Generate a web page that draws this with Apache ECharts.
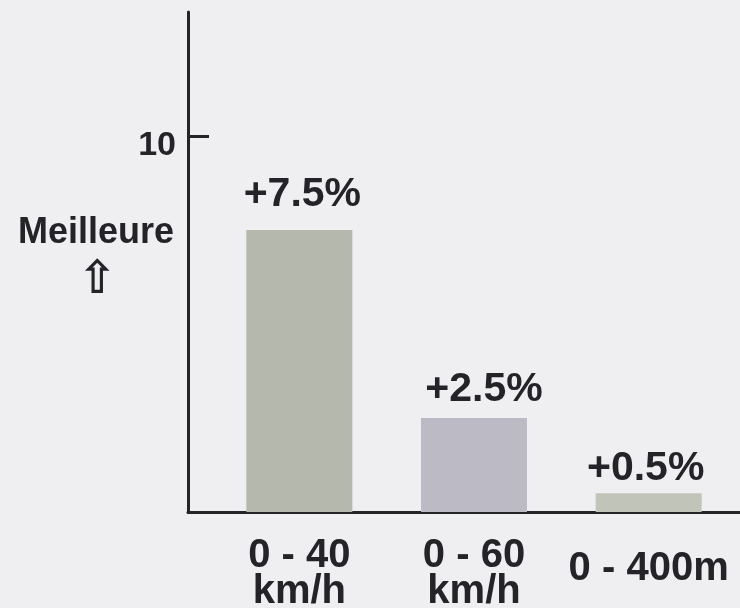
<!DOCTYPE html>
<html>
<head>
<meta charset="utf-8">
<title>Meilleure accélération</title>
<script src="https://cdn.jsdelivr.net/npm/echarts@6/dist/echarts.min.js"></script>
<style>
  html, body { margin: 0; padding: 0; background: #efeff1; }
  #chart { width: 740px; height: 608px; }
</style>
</head>
<body>
<div id="chart"></div>
<script>
// Performance gain per test, in percent
const categories = ['0 - 40\nkm/h', '0 - 60\nkm/h', '0 - 400m'];
const gains = [7.5, 2.5, 0.5];
const barColors = ['#b4b8ad', '#bcbac5', '#c1c4b9'];
// small per-bar nudges of the value labels [dx, dy]
const labelNudge = [[3, -1], [10, 6], [-3, 10]];
const yMax = 13.3;
const yTickStep = 10;
const axisTitle = 'Meilleure';
const axisArrow = '⇧';

const ink = '#242428';
const fontFamily = '"Liberation Sans", Arial, Helvetica, sans-serif';

const chart = echarts.init(document.getElementById('chart'), null, { renderer: 'canvas' });

chart.setOption({
  backgroundColor: '#efeff1',
  animation: false,
  grid: [
    // frame: vertical scale and baseline
    { left: 188, right: 0, top: 12, bottom: 96, outerBoundsMode: 'none', containLabel: false },
    // bars
    { left: 212, right: 4, top: 12, bottom: 96, outerBoundsMode: 'none', containLabel: false }
  ],
  xAxis: [
    {
      gridIndex: 0,
      type: 'value',
      min: 0,
      max: 1,
      axisLine: { show: true, lineStyle: { color: ink, width: 3 } },
      axisTick: { show: false },
      axisLabel: { show: false },
      splitLine: { show: false }
    },
    {
      gridIndex: 1,
      type: 'category',
      data: categories,
      axisLine: { show: false },
      axisTick: { show: false },
      axisLabel: {
        interval: 0,
        hideOverlap: false,
        margin: 62,
        verticalAlign: 'middle',
        fontFamily: fontFamily,
        fontWeight: 'bold',
        fontSize: 40,
        lineHeight: 36,
        color: ink,
        // single-line labels sit slightly higher than the two-line ones
        formatter: v => v.indexOf('\n') >= 0 ? v : '{one|' + v + '}',
        rich: {
          one: {
            fontFamily: fontFamily,
            fontWeight: 'bold',
            fontSize: 40,
            lineHeight: 36,
            color: ink,
            padding: [0, 0, 10, 0]
          }
        }
      }
    }
  ],
  yAxis: [
    {
      gridIndex: 0,
      type: 'value',
      min: 0,
      max: yMax,
      interval: yTickStep,
      axisLine: { show: true, lineStyle: { color: ink, width: 3 } },
      axisTick: { show: true, inside: true, length: 21, lineStyle: { color: ink, width: 3 } },
      axisLabel: {
        showMinLabel: false,
        showMaxLabel: false,
        margin: 12,
        verticalAlign: 'top',
        lineHeight: 20,
        fontFamily: fontFamily,
        fontWeight: 'bold',
        fontSize: 34,
        color: ink
      },
      splitLine: { show: false }
    },
    {
      gridIndex: 1,
      type: 'value',
      min: 0,
      max: yMax,
      show: false,
      splitLine: { show: false }
    }
  ],
  graphic: [
    {
      type: 'text',
      silent: true,
      style: {
        text: axisTitle,
        x: 96,
        y: 233,
        align: 'center',
        verticalAlign: 'middle',
        fontFamily: fontFamily,
        fontWeight: 'bold',
        fontSize: 36,
        fill: ink
      }
    },
    {
      type: 'text',
      silent: true,
      style: {
        text: axisArrow,
        x: 97,
        y: 281,
        align: 'center',
        verticalAlign: 'middle',
        fontFamily: '"DejaVu Sans", sans-serif',
        fontWeight: 'bold',
        fontSize: 46,
        fill: ink
      }
    }
  ],
  series: [
    {
      type: 'bar',
      xAxisIndex: 1,
      yAxisIndex: 1,
      barWidth: 106,
      data: gains.map((v, i) => ({
        value: v,
        itemStyle: { color: barColors[i] },
        label: { offset: labelNudge[i] }
      })),
      label: {
        show: true,
        position: 'top',
        distance: 14,
        formatter: p => '+' + p.value + '%',
        fontFamily: fontFamily,
        fontWeight: 'bold',
        fontSize: 41,
        color: ink
      }
    }
  ]
});
</script>
</body>
</html>
